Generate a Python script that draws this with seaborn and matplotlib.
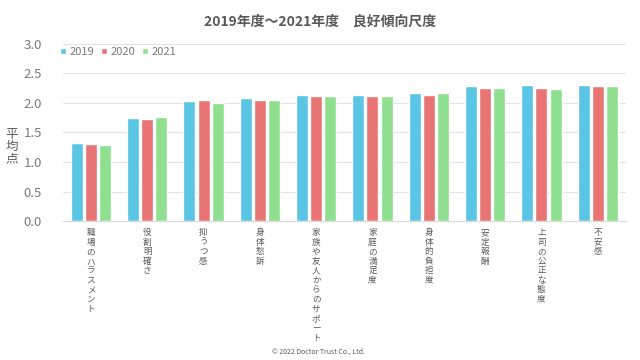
import pandas as pd
import matplotlib.pyplot as plt
import seaborn as sns

categories = ['職場のハラスメント', '役割明確さ', '抑うつ感', '身体愁訴', '家族や友人からのサポート',
              '家庭の満足度', '身体的負担度', '安定報酬', '上司の公正な態度', '不安感']
years = ['2019', '2020', '2021']
v2019 = [1.33, 1.75, 2.03, 2.08, 2.13, 2.13, 2.17, 2.29, 2.30, 2.30]
v2020 = [1.31, 1.73, 2.05, 2.05, 2.11, 2.11, 2.14, 2.25, 2.26, 2.28]
v2021 = [1.29, 1.76, 2.00, 2.05, 2.12, 2.11, 2.17, 2.26, 2.24, 2.28]
colors = ['#5BC5E5', '#E87474', '#8EE08E']

df = pd.DataFrame({
    'cat': categories * 3,
    'year': [y for y in years for _ in categories],
    'val': v2019 + v2020 + v2021,
})

sns.set_style('white')
plt.rcParams['font.family'] = ['Noto Sans CJK JP', 'DejaVu Sans']
gray = '#595959'
tick_gray = '#7a7a7a'

fig = plt.figure(figsize=(6.4, 3.6), dpi=100)
ax = fig.add_axes([0.098, 0.386, 0.88, 0.492])
sns.barplot(data=df, x='cat', y='val', hue='year', palette=colors,
            width=0.75, gap=0.15, ax=ax, saturation=1)

ax.set_ylim(0, 3.0)
ax.set_xlim(-0.5, len(categories) - 0.5)
ax.set_yticks([0, 0.5, 1.0, 1.5, 2.0, 2.5, 3.0])
ax.set_yticklabels(['0.0', '0.5', '1.0', '1.5', '2.0', '2.5', '3.0'], color=tick_gray, fontsize=9.5)
ax.yaxis.grid(True, color='#E3E3E3', linewidth=0.8)
ax.set_axisbelow(True)
for s in ['top', 'right', 'left']:
    ax.spines[s].set_visible(False)
ax.spines['bottom'].set_color('#D9D9D9')
ax.tick_params(axis='y', length=0, pad=15)

ax.set_xticks(range(len(categories)))
ax.set_xticklabels(['\n'.join(c) for c in categories], rotation=0, fontsize=6.2,
                   color=gray, va='top', linespacing=1.08)
ax.tick_params(axis='x', length=0, pad=5)
ax.set_xlabel('')
ax.set_ylabel('平\n均\n点', rotation=0, color=gray, fontsize=9, linespacing=0.95,
              va='center', ha='center')
ax.yaxis.set_label_coords(-0.09, 0.42)

leg = ax.legend(loc='upper left', bbox_to_anchor=(-0.016, 1.02), ncol=3, frameon=False,
                fontsize=8, handlelength=0.55, handleheight=0.55, handletextpad=0.3,
                columnspacing=0.6, labelcolor=tick_gray, borderaxespad=0.2)

fig.text(0.5, 0.94, '2019年度～2021年度　良好傾向尺度', ha='center', va='center',
         fontsize=10, fontweight='bold', color=gray)
fig.text(0.497, 0.022, '© 2022 Doctor Trust Co., Ltd.', ha='center', va='center',
         fontsize=5, color=gray)

fig.savefig('out.png', dpi=100)
